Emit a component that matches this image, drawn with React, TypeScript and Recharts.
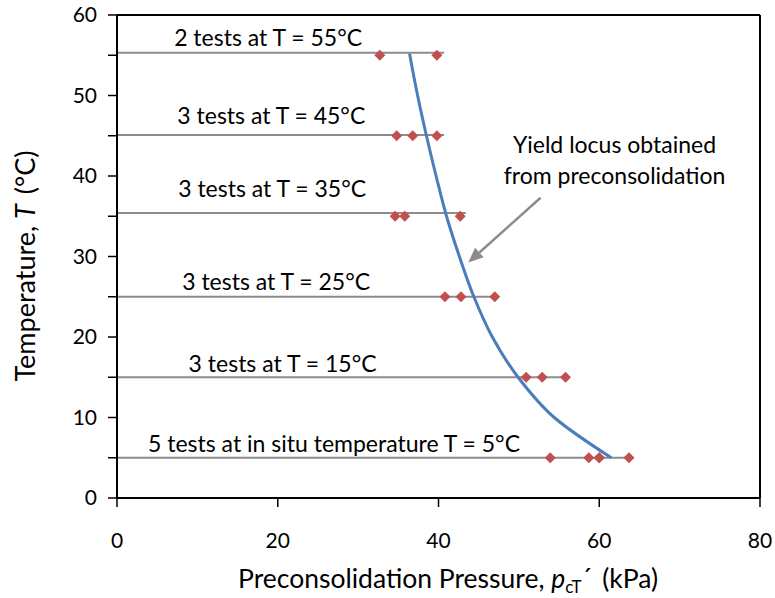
import { ComposedChart, Line, Scatter, XAxis, YAxis, ReferenceLine, Label } from 'recharts'

// test temperatures (°C) and the descriptive text written above each level
const temperatures = [55, 45, 35, 25, 15, 5]
const testLabels = [
  '2 tests at T = 55°C',
  '3 tests at T = 45°C',
  '3 tests at T = 35°C',
  '3 tests at T = 25°C',
  '3 tests at T = 15°C',
  '5 tests at in situ temperature T = 5°C',
]

// measured preconsolidation pressures (kPa) at each temperature
const pressures55 = [32.7, 39.8]
const pressures45 = [34.8, 36.8, 39.8]
const pressures35 = [34.6, 35.8, 42.7]
const pressures25 = [40.8, 42.8, 47.0]
const pressures15 = [50.9, 52.9, 55.8]
const pressures5 = [53.9, 58.7, 60.0, 60.0, 63.7]

// grey level lines: height and where they stop
const lineLevels = [55.3, 45.1, 35.4, 25, 15, 5]
const lineEnds = [40.7, 40.7, 43.4, 47.4, 56.3, 64.2]

// yield locus (fitted curve)
const locusT = [55.2, 50, 45, 40, 35, 30, 25, 20, 15, 10, 5]
const locusP = [36.4, 37.4, 38.5, 39.7, 41.0, 42.6, 44.4, 46.7, 49.9, 54.4, 61.5]

const xTicks = [0, 20, 40, 60, 80]
const yTicks = [0, 5, 10, 15, 20, 25, 30, 35, 40, 45, 50, 55, 60]

// where the annotation text sits (data coords: centre x, baseline y)
const labelX = [18.8, 19.2, 19.3, 19.8, 20.6, 27.0]
const labelY = [56.2, 46.5, 37.35, 25.9, 15.7, 5.7]
const calloutLines = ['Yield locus obtained', 'from preconsolidation']
const calloutX = [61.9, 61.9]
const calloutY = [42.8, 39.0]
const arrowFrom = { x: 52.7, y: 37.3 }
const arrowTo = { x: 43.7, y: 29.25 }

const FONT = 'Lato, "Open Sans", sans-serif'

const pressureSets = [pressures55, pressures45, pressures35, pressures25, pressures15, pressures5]
const markers = pressureSets.flatMap((ps, i) => ps.map(p => ({ p, T: temperatures[i] })))
const levelLines = lineLevels.map((T, i) => [{ p: 0, T }, { p: lineEnds[i], T }])
const locus = locusP.map((p, i) => ({ p, T: locusT[i] }))
const annotations = [
  ...testLabels.map((text, i) => ({ p: labelX[i], T: labelY[i], text })),
  ...calloutLines.map((text, i) => ({ p: calloutX[i], T: calloutY[i], text })),
]

const Diamond = (props: any) => {
  const { cx, cy } = props
  const s = 5.5
  return (
    <polygon
      points={`${cx},${cy - s} ${cx + s},${cy} ${cx},${cy + s} ${cx - s},${cy}`}
      fill="#C0504D"
    />
  )
}

const AnnotationText = (props: any) => {
  const { cx, cy, payload } = props
  return (
    <text x={cx} y={cy} textAnchor="middle" fontSize={23} fill="#000" fontFamily={FONT}>
      {payload.text}
    </text>
  )
}

const Arrow = (props: any) => {
  const { x1, y1, x2, y2 } = props
  const ang = Math.atan2(y2 - y1, x2 - x1)
  const len = 15
  const w = 6.5
  const bx = x2 - len * Math.cos(ang)
  const by = y2 - len * Math.sin(ang)
  const px = -Math.sin(ang) * w
  const py = Math.cos(ang) * w
  return (
    <g>
      <line x1={x1} y1={y1} x2={bx} y2={by} stroke="#8C8C8C" strokeWidth={2.5} />
      <polygon points={`${x2},${y2} ${bx + px},${by + py} ${bx - px},${by - py}`} fill="#8C8C8C" />
    </g>
  )
}

const XTitle = () => (
  <text x={448} y={588} textAnchor="middle" fontSize={26.5} fill="#000" fontFamily={FONT}>
    <tspan>Preconsolidation Pressure, </tspan>
    <tspan fontStyle="italic">p</tspan>
    <tspan fontSize={17} dy={5}>cT</tspan>
    <tspan dy={-5}>´</tspan>
    <tspan dx={10}>(kPa)</tspan>
  </text>
)

const YTitle = () => (
  <text
    x={35}
    y={266}
    transform="rotate(-90 35 266)"
    textAnchor="middle"
    fontSize={27}
    fill="#000"
    fontFamily={FONT}
  >
    <tspan>Temperature, </tspan>
    <tspan fontStyle="italic">T</tspan>
    <tspan dx={10}>(°C)</tspan>
  </text>
)

export default function App() {
  return (
    <div style={{ width: 775, height: 598, fontFamily: FONT }}>
      <style>{'body{margin:0}'}</style>
      <ComposedChart width={775} height={598} margin={{ top: 15, right: 15, left: 0, bottom: 0 }}>
        <XAxis
          dataKey="p"
          type="number"
          domain={[0, 80]}
          ticks={xTicks}
          allowDataOverflow
          height={100}
          tickSize={9}
          tickMargin={26}
          axisLine={{ stroke: '#000', strokeWidth: 2 }}
          tickLine={{ stroke: '#000', strokeWidth: 1.5 }}
          tick={{ fill: '#000', fontSize: 21, fontFamily: FONT }}
        >
          <Label content={XTitle} />
        </XAxis>
        <YAxis
          dataKey="T"
          type="number"
          domain={[0, 60]}
          ticks={yTicks}
          allowDataOverflow
          width={117}
          tickSize={9}
          tickMargin={11}
          interval={0}
          tickFormatter={(v: number) => (v % 10 === 0 ? String(v) : '')}
          axisLine={{ stroke: '#000', strokeWidth: 2 }}
          tickLine={{ stroke: '#000', strokeWidth: 1.5 }}
          tick={{ fill: '#000', fontSize: 21, fontFamily: FONT }}
        >
          <Label content={YTitle} />
        </YAxis>
        <ReferenceLine y={60} stroke="#000" strokeWidth={2} />
        <ReferenceLine x={80} stroke="#000" strokeWidth={2} />
        {levelLines.map((d, i) => (
          <Line
            key={`lvl-${i}`}
            data={d}
            dataKey="T"
            stroke="#8C8C8C"
            strokeWidth={2}
            dot={false}
            isAnimationActive={false}
          />
        ))}
        <Line
          data={locus}
          dataKey="T"
          type="monotoneY"
          stroke="#4A7EBB"
          strokeWidth={3}
          dot={false}
          isAnimationActive={false}
        />
        <Scatter data={markers} dataKey="T" shape={Diamond} isAnimationActive={false} />
        <Scatter data={annotations} dataKey="T" shape={AnnotationText} isAnimationActive={false} />
        <ReferenceLine segment={[arrowFrom, arrowTo]} shape={Arrow} />
      </ComposedChart>
    </div>
  )
}
